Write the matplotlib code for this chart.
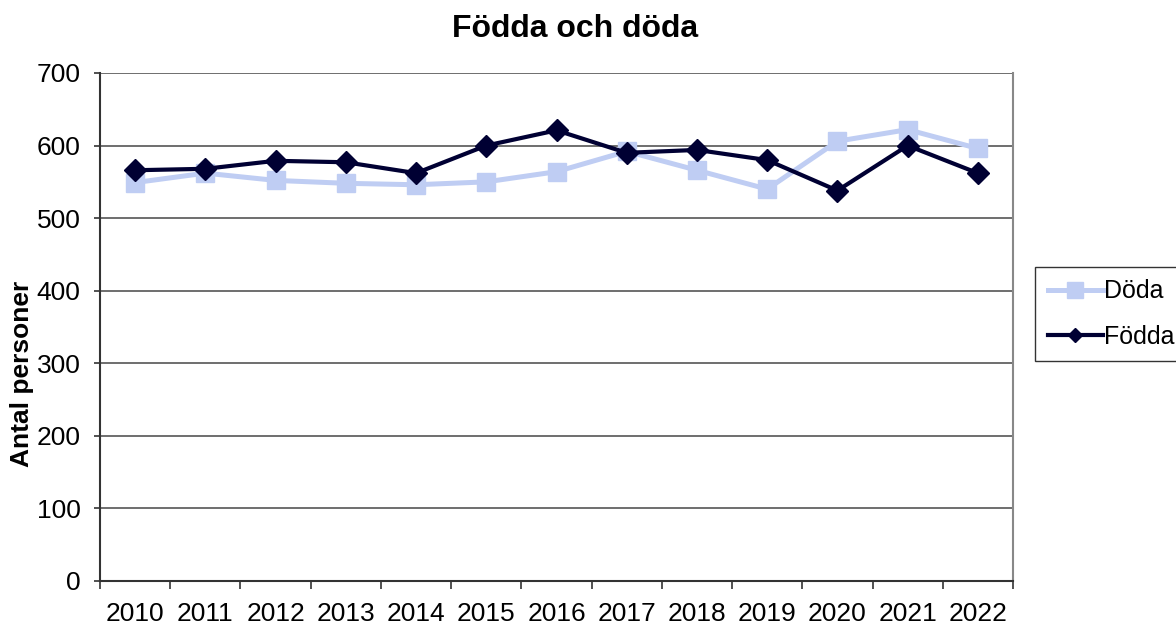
import matplotlib
matplotlib.use("Agg")
import matplotlib.pyplot as plt
import numpy as np

years = ["2010", "2011", "2012", "2013", "2014", "2015", "2016",
         "2017", "2018", "2019", "2020", "2021", "2022"]
doda = [549, 562, 552, 548, 546, 550, 564, 592, 566, 540, 606, 622, 596]
fodda = [566, 568, 579, 577, 562, 600, 621, 590, 594, 580, 538, 600, 562]
yticks = [0, 100, 200, 300, 400, 500, 600, 700]

plt.rcParams['font.family'] = ['Liberation Sans', 'DejaVu Sans']

fig = plt.figure(figsize=(11.76, 6.26), dpi=100)
ax = fig.add_axes([100/1176, 45/626, 913/1176, 508/626])

x = np.arange(len(years))
ax.plot(x, doda, color='#bfcdf3', lw=3.6, marker='s', ms=13, label='Döda', zorder=3)
ax.plot(x, fodda, color='#000033', lw=3, marker='D', ms=11, label='Födda', zorder=4)

ax.set_xlim(-0.5, len(years) - 0.5)
ax.set_ylim(0, 700)
ax.set_yticks(yticks)
ax.set_yticklabels([str(v) for v in yticks], fontsize=19)
ax.set_xticks(x)
ax.set_xticklabels(years, fontsize=19)
ax.tick_params(axis='x', length=0, pad=15)
ax.set_xticks(np.arange(-0.5, len(years), 1), minor=True)
ax.tick_params(axis='x', which='minor', length=6, width=1.2, color='#333333', direction='out')
ax.tick_params(axis='y', length=4, width=1.2, color='#333333', direction='out', pad=10)

ax.grid(axis='y', color='#555555', lw=1.2)
ax.set_axisbelow(True)
for s in ['left', 'bottom']:
    ax.spines[s].set_color('#333333')
    ax.spines[s].set_linewidth(1.5)
ax.spines['right'].set_color('#888888')
ax.spines['right'].set_linewidth(1.5)
ax.spines['top'].set_visible(False)

fig.text(22 / 1176, 1 - 374 / 626, 'Antal personer', fontsize=19, fontweight='bold',
         rotation=90, ha='center', va='center')
fig.text(575 / 1176, 1 - 29 / 626, 'Födda och döda', fontsize=23,
         fontweight='bold', ha='center', va='center')

leg = fig.legend(loc='upper left', bbox_to_anchor=(1035/1176, 1 - 267/626),
                 fontsize=18, frameon=True, fancybox=False, edgecolor='black',
                 handlelength=2.2, handletextpad=0.05, borderpad=0.5,
                 labelspacing=0.85, borderaxespad=0)
leg.get_frame().set_linewidth(1.0)
leg.legend_handles[0].set_markersize(11)
leg.legend_handles[1].set_markersize(7)

fig.savefig('out.png', dpi=100)
